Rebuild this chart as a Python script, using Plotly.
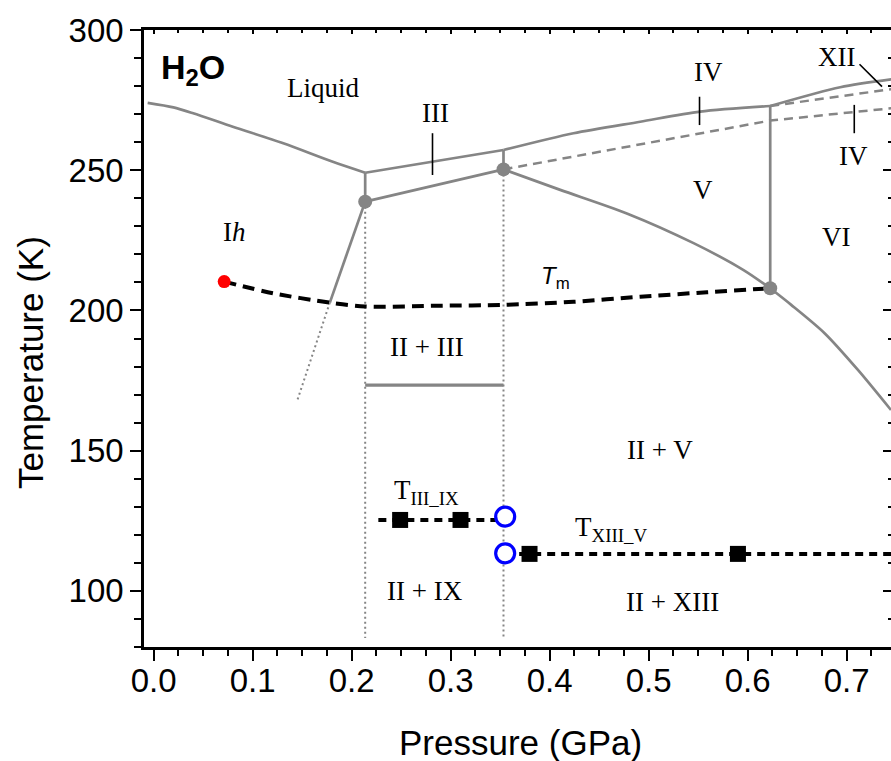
import plotly.graph_objects as go

# ---- phase boundaries of H2O (pressure in GPa, temperature in K) ----
liquid_ih_p = [-0.006, 0.020, 0.040, 0.080, 0.131, 0.181, 0.2137]
liquid_ih_t = [274.0, 272.4, 270.3, 265.5, 259.6, 253.0, 249.1]

ih_iii_p = [0.2137, 0.2137]
ih_iii_t = [238.8, 249.1]

liquid_iii_p = [0.2137, 0.3534]
liquid_iii_t = [249.1, 257.2]

ii_iii_p = [0.2137, 0.3534]
ii_iii_t = [238.8, 250.3]

iii_v_p = [0.3534, 0.3534]
iii_v_t = [250.3, 257.2]

liquid_v_p = [0.3534, 0.4241, 0.4915, 0.552, 0.6228]
liquid_v_t = [257.2, 263.2, 267.3, 270.9, 272.9]

liquid_xii_p = [0.6228, 0.6935, 0.745]
liquid_xii_t = [272.9, 279.6, 282.4]

v_vi_p = [0.6228, 0.6228]
v_vi_t = [207.9, 272.9]

ii_v_p = [0.3534, 0.4107, 0.478, 0.5454, 0.5959, 0.6228]
ii_v_t = [250.3, 243.0, 234.6, 224.0, 214.4, 207.9]

ii_vi_p = [0.6228, 0.644, 0.6777, 0.7114, 0.7448]
ii_vi_t = [207.9, 202.0, 191.9, 178.8, 164.5]

ih_ii_p = [0.2137, 0.178]
ih_ii_t = [238.8, 202.8]
ih_ii_ext_p = [0.178, 0.1447]
ih_ii_ext_t = [202.8, 167.5]

# metastable extensions (ice IV)
iv_low_p = [0.3534, 0.6228, 0.745]
iv_low_t = [250.3, 267.7, 272.1]
iv_high_p = [0.6228, 0.745]
iv_high_t = [272.9, 278.9]

# II + III coexistence bar
ii_iii_bar_p = [0.2137, 0.3534]
ii_iii_bar_t = [173.4, 173.4]

# isobars through the triple points
iso1_p = [0.2137, 0.2137]
iso1_t = [238.8, 83.2]
iso2_p = [0.3534, 0.3534]
iso2_t = [250.3, 83.2]

triple_p = [0.2137, 0.3534, 0.6228]
triple_t = [238.8, 250.3, 207.9]

# T_m line
tm_p = [0.0713, 0.1211, 0.178, 0.2137, 0.29, 0.3534, 0.4241, 0.4915, 0.5589, 0.6228]
tm_t = [210.3, 206.1, 202.8, 201.4, 201.7, 202.0, 203.1, 204.9, 206.5, 207.9]
tm_start_p = [0.0713]
tm_start_t = [210.3]

# ordering transitions
iii_ix_line_p = [0.227, 0.3551]
iii_ix_line_t = [125.3, 125.3]
iii_ix_p = [0.249, 0.310]
iii_ix_t = [125.3, 125.3]

xiii_v_line_p = [0.3551, 0.745]
xiii_v_line_t = [113.2, 113.2]
xiii_v_p = [0.3797, 0.5902]
xiii_v_t = [113.2, 113.2]

open_p = [0.3551, 0.3551]
open_t = [126.5, 113.4]

# label marker strokes
tick_iii_p = [0.2817, 0.2817]
tick_iii_t = [248.3, 263.2]
tick_iv_p = [0.5514, 0.5514]
tick_iv_t = [266.1, 276.2]
tick_iv2_p = [0.7077, 0.7077]
tick_iv2_t = [263.2, 273.3]
tick_xii_p = [0.713, 0.7357]
tick_xii_t = [287.8, 279.8]

GRAY = "#858585"
SANS = "Liberation Sans, Arial, sans-serif"
SERIF = "Liberation Serif, Times New Roman, serif"

fig = go.Figure()


def line(p, t, color=GRAY, width=2.7, dash="solid", shape="linear"):
    fig.add_trace(go.Scatter(x=p, y=t, mode="lines",
                             line=dict(color=color, width=width, dash=dash, shape=shape,
                                       smoothing=0.8),
                             showlegend=False, hoverinfo="skip"))


# gray boundaries
for p, t in [(ih_iii_p, ih_iii_t), (liquid_iii_p, liquid_iii_t),
             (ii_iii_p, ii_iii_t), (iii_v_p, iii_v_t),
             (v_vi_p, v_vi_t), (ih_ii_p, ih_ii_t)]:
    line(p, t)
for p, t in [(liquid_ih_p, liquid_ih_t), (liquid_v_p, liquid_v_t),
             (liquid_xii_p, liquid_xii_t), (ii_v_p, ii_v_t), (ii_vi_p, ii_vi_t)]:
    line(p, t, shape="spline")
line(ii_iii_bar_p, ii_iii_bar_t, width=3.2)
line(ih_ii_ext_p, ih_ii_ext_t, width=2, dash="2px,3px")
line(iso1_p, iso1_t, width=2, dash="2px,3px")
line(iso2_p, iso2_t, width=2, dash="2px,3px")
line(iv_low_p, iv_low_t, width=2.5, dash="9px,6px")
line(iv_high_p, iv_high_t, width=2.5, dash="9px,6px")

# label strokes
for p, t in [(tick_iii_p, tick_iii_t), (tick_iv_p, tick_iv_t),
             (tick_iv2_p, tick_iv2_t), (tick_xii_p, tick_xii_t)]:
    line(p, t, color="black", width=1.6)

# black dashed transition lines
line(tm_p, tm_t, color="black", width=4, dash="12px,7px", shape="spline")
line(iii_ix_line_p, iii_ix_line_t, color="black", width=4, dash="8px,6px")
line(xiii_v_line_p, xiii_v_line_t, color="black", width=4, dash="8px,6px")

# markers
fig.add_trace(go.Scatter(x=triple_p, y=triple_t, mode="markers",
                         marker=dict(color=GRAY, size=14), showlegend=False, hoverinfo="skip"))
fig.add_trace(go.Scatter(x=tm_start_p, y=tm_start_t, mode="markers",
                         marker=dict(color="#ff0000", size=13), showlegend=False, hoverinfo="skip"))
fig.add_trace(go.Scatter(x=iii_ix_p + xiii_v_p, y=iii_ix_t + xiii_v_t, mode="markers",
                         marker=dict(color="black", size=16, symbol="square"),
                         showlegend=False, hoverinfo="skip"))
fig.add_trace(go.Scatter(x=open_p, y=open_t, mode="markers",
                         marker=dict(color="white", size=19, symbol="circle",
                                     line=dict(color="#0000ff", width=3.2)),
                         showlegend=False, hoverinfo="skip"))

# carrier for the mirrored (top/right) axes
fig.add_trace(go.Scatter(x=[None], y=[None], xaxis="x2", yaxis="y2",
                         showlegend=False, hoverinfo="skip"))

XR = [-0.0097, 0.7448]
YR = [80, 300]


def serif_label(text, x, y, size=27):
    fig.add_annotation(x=x, y=y, text=text, showarrow=False,
                       xanchor="center", yanchor="middle",
                       font=dict(family=SERIF, size=size, color="black"))


serif_label("Liquid", 0.1713, 279.3)
serif_label("III", 0.2844, 270.4)
serif_label("I<i>h</i>", 0.0814, 228.0)
serif_label("IV", 0.5607, 285.0)
serif_label("V", 0.555, 243.0)
serif_label("VI", 0.6895, 226.2)
serif_label("XII", 0.6895, 290.4)
serif_label("IV", 0.7067, 255.1)
serif_label("II + III", 0.2764, 187.0)
serif_label("II + V", 0.5117, 150.3)
serif_label("II + IX", 0.2744, 100.0)
serif_label("II + XIII", 0.5239, 96.1)
serif_label("T<sub>III_IX</sub>", 0.2754, 135.3)
serif_label("T<sub>XIII_V</sub>", 0.4623, 122.1)

fig.add_annotation(x=0.4062, y=211.6, text="<i>T</i><sub>m</sub>", showarrow=False,
                   xanchor="center", yanchor="middle",
                   font=dict(family=SANS, size=24, color="black"))
fig.add_annotation(xref="paper", yref="paper", x=(193 - 144) / 747, y=(647 - 70) / 617,
                   text="<b>H<sub>2</sub>O</b>", showarrow=False,
                   xanchor="center", yanchor="middle",
                   font=dict(family=SANS, size=34, color="black"))

# axis titles
fig.add_annotation(xref="paper", yref="paper", x=(520 - 144) / 747, y=(647 - 742) / 617,
                   text="Pressure (GPa)", showarrow=False,
                   xanchor="center", yanchor="middle",
                   font=dict(family=SANS, size=35, color="black"))
fig.add_annotation(xref="paper", yref="paper", x=(30 - 144) / 747, y=(647 - 362) / 617,
                   text="Temperature (K)", textangle=-90, showarrow=False,
                   xanchor="center", yanchor="middle",
                   font=dict(family=SANS, size=35, color="black"))

fig.update_layout(
    width=891, height=761,
    margin=dict(l=144, r=0, t=30, b=114),
    paper_bgcolor="white", plot_bgcolor="white",
    xaxis=dict(range=XR, showgrid=False, zeroline=False,
               showline=True, linecolor="black", linewidth=2.5,
               ticks="outside", ticklen=11, tickwidth=2, tickcolor="black",
               tick0=0, dtick=0.1, tickformat=".1f", ticklabelstandoff=-8,
               tickfont=dict(family=SANS, size=33, color="black"),
               minor=dict(ticks="outside", ticklen=6, tickwidth=2, tickcolor="black",
                          dtick=0.025, tick0=0, showgrid=False)),
    yaxis=dict(range=YR, showgrid=False, zeroline=False,
               showline=True, linecolor="black", linewidth=2.5,
               ticks="outside", ticklen=11, tickwidth=2, tickcolor="black",
               tick0=0, dtick=50,
               tickfont=dict(family=SANS, size=33, color="black"),
               minor=dict(ticks="outside", ticklen=7, tickwidth=2, tickcolor="black",
                          dtick=10, tick0=0, showgrid=False)),
    xaxis2=dict(range=XR, overlaying="x", side="top", showgrid=False, zeroline=False,
                showline=True, linecolor="black", linewidth=2.5,
                ticks="inside", ticklen=4, tickwidth=1.5, tickcolor="black",
                tick0=0, dtick=0.1, showticklabels=False,
                minor=dict(ticks="inside", ticklen=3, tickwidth=1.5, tickcolor="black",
                           dtick=0.025, tick0=0, showgrid=False)),
    yaxis2=dict(range=YR, overlaying="y", side="right", showgrid=False, zeroline=False,
                showline=False, ticks="inside", ticklen=8, tickwidth=2, tickcolor="black",
                tick0=0, dtick=50, showticklabels=False,
                minor=dict(ticks="inside", ticklen=3, tickwidth=2, tickcolor="black",
                           dtick=10, tick0=0, showgrid=False)),
)

fig.write_html("out.html")
